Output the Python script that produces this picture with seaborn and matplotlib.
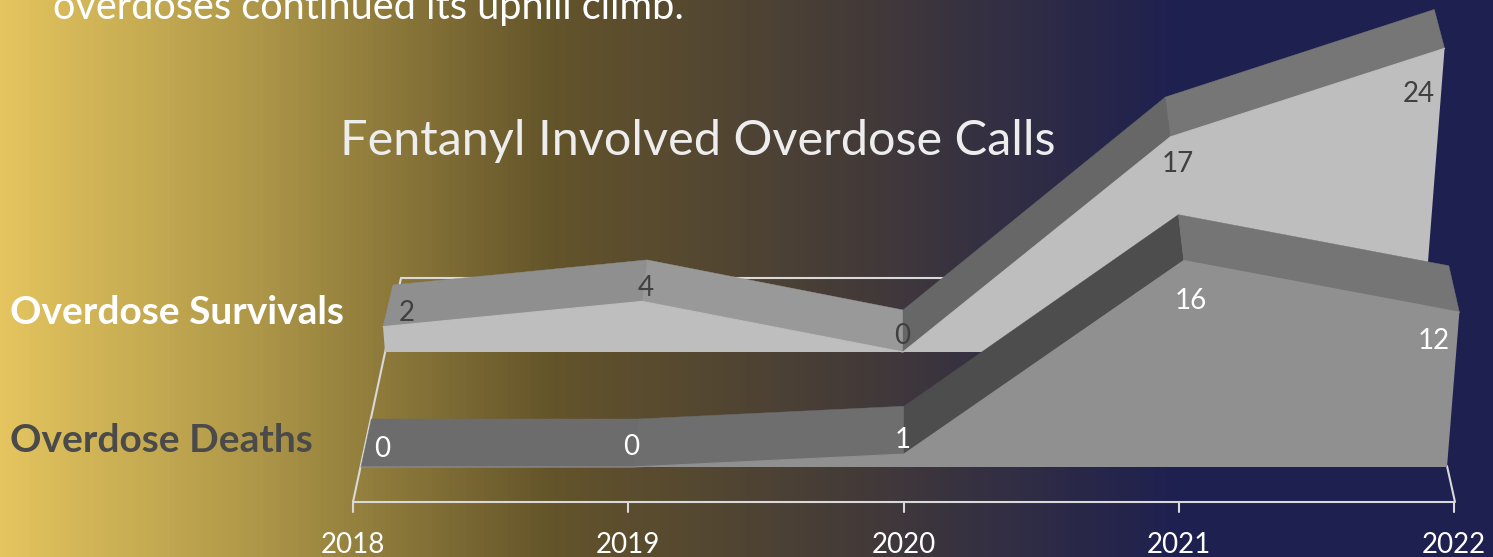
import numpy as np
import pandas as pd
import seaborn as sns
import matplotlib.pyplot as plt
from matplotlib.colors import LinearSegmentedColormap

years = ['2018', '2019', '2020', '2021', '2022']
survivals = [2, 4, 0, 17, 24]
deaths = [0, 0, 1, 16, 12]

sns.set_theme(style='white')
plt.rcParams['font.family'] = ['Lato', 'DejaVu Sans']

# sfondo a gradiente
grad_pos = [0, 0.012, 0.17, 0.37, 0.58, 0.79, 1]
grad_col = ['#E4C45F', '#E0C15D', '#AE9748', '#63542A', '#433A39', '#1E2050', '#1E2050']
cmap = LinearSegmentedColormap.from_list('bg', list(zip(grad_pos, grad_col)))

fig = plt.figure(figsize=(14.93, 5.57), dpi=100)
ax = fig.add_axes([0, 0, 1, 1])
ax.imshow(np.linspace(0, 1, 1493).reshape(1, -1), cmap=cmap, aspect='auto',
          extent=(0, 1493, 557, 0), zorder=0)

# finta prospettiva 3D
center_x = 904
persp = 0.0019
back_scale = 0.981


def front(values, left, right, base, unit):
    xs = np.linspace(left, right, len(values))
    vals = np.array(values, dtype=float)
    return xs + (xs - center_x) * vals * persp, base - vals * unit


def back(px, py, base, depth):
    return center_x + (px - center_x) * back_scale, base - depth - (base - py) * 0.99


def draw_area(values, left, right, base, unit, depth, face, bands, z):
    px, py = front(values, left, right, base, unit)
    bx, by = back(px, py, base, depth)
    xs = np.linspace(left, right, len(values))
    # faccia superiore
    for i in range(len(values) - 1):
        ax.fill([px[i], px[i + 1], bx[i + 1], bx[i]], [py[i], py[i + 1], by[i + 1], by[i]],
                color=bands[i], lw=0.3, zorder=z)
    # faccia frontale
    ax.fill(list(px) + [xs[-1], xs[0]], list(py) + [base, base], color=face, lw=0, zorder=z + 1)
    df = pd.DataFrame({'x': px, 'y': py})
    sns.lineplot(data=df, x='x', y='y', sort=False, color=face, lw=0.8, ax=ax, zorder=z + 1)
    return px, py


# serie dietro
sx, sy = draw_area(survivals, 385, 1421, 352, 12.65, 42, '#BEBEBE',
                   ['#8F8F8F', '#999999', '#676767', '#767676'], 3)
# serie davanti
dx, dy = draw_area(deaths, 361, 1447, 467, 12.9, 48, '#909090',
                   ['#6C6C6C', '#6E6E6E', '#4D4D4D', '#757575'], 5)

# etichette dei dati
s_off = [(24, -14), (4, -13), (-1, -16), (7, 27), (-26, 46)]
d_off = [(21, -18), (-1, -20), (-1, -14), (7, 40), (-26, 29)]
for i in range(len(years)):
    ax.text(sx[i] + s_off[i][0], sy[i] + s_off[i][1], str(survivals[i]), color='#404040',
            fontsize=20, ha='center', va='center', zorder=8)
    ax.text(dx[i] + d_off[i][0], dy[i] + d_off[i][1], str(deaths[i]), color='white',
            fontsize=20, ha='center', va='center', zorder=8)

# pareti e pavimento
line_c = '#D9D9D9'
ax.plot([401, 945], [278, 278], color=line_c, lw=1.5, zorder=2)
ax.plot([353, 401], [502, 278], color=line_c, lw=1.5, zorder=2)
ax.plot([1447, 1455], [466, 502], color=line_c, lw=1.5, zorder=2)
ax.plot([353, 1454], [502, 502], color=line_c, lw=1.5, zorder=2)
for x, lab in zip(np.linspace(353, 1454, len(years)), years):
    ax.plot([x, x], [502, 512], color=line_c, lw=1.5, zorder=2)
    ax.text(x, 545, lab, color='white', fontsize=20, ha='center', va='center')

# testi
ax.text(698, 141, 'Fentanyl Involved Overdose Calls', color='#EDEDED', fontsize=35,
        ha='center', va='center', zorder=9)
ax.text(10, 312, 'Overdose Survivals', color='white', fontsize=28, fontweight='bold', va='center')
ax.text(10, 441, 'Overdose Deaths', color='#4A4A4A', fontsize=28, fontweight='bold', va='center')
ax.text(53, 19, 'overdoses continued its uphill climb.', color='white', fontsize=28.6, va='baseline')

ax.set_xlim(0, 1493)
ax.set_ylim(557, 0)
ax.set_xlabel('')
ax.set_ylabel('')
ax.axis('off')
fig.savefig('out.png', dpi=100)
